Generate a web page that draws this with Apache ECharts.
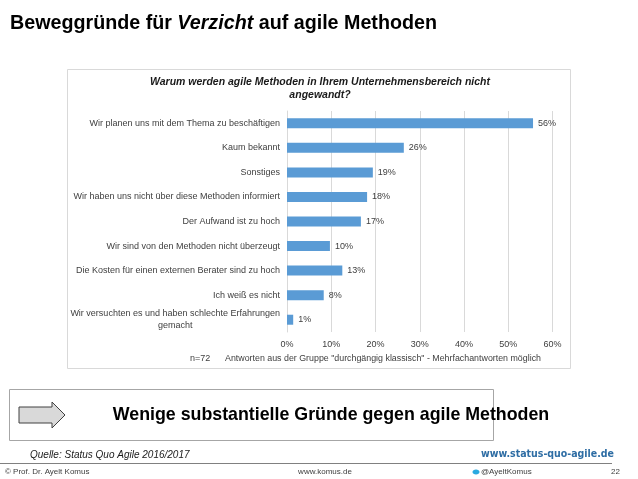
<!DOCTYPE html>
<html>
<head>
<meta charset="utf-8">
<script src="https://cdn.jsdelivr.net/npm/echarts@6/dist/echarts.min.js"></script>
<style>
  html, body { margin: 0; padding: 0; background: #fff; }
  #chart { width: 638px; height: 479px; }
</style>
</head>
<body>
<div id="chart"></div>
<script>
// Kategorien (oben -> unten)
var categories = [
  'Wir planen uns mit dem Thema zu beschäftigen',
  'Kaum bekannt',
  'Sonstiges',
  'Wir haben uns nicht über diese Methoden informiert',
  'Der Aufwand ist zu hoch',
  'Wir sind von den Methoden nicht überzeugt',
  'Die Kosten für einen externen Berater sind zu hoch',
  'Ich weiß es nicht',
  'Wir versuchten es und haben schlechte Erfahrungen\ngemacht'
];
// Anteile in % (n=72)
var values = [55.6, 26.4, 19.4, 18.1, 16.7, 9.7, 12.5, 8.3, 1.4];
var xTicks = [0, 10, 20, 30, 40, 50, 60];

var font = '"Liberation Sans", Arial, sans-serif';
var chart = echarts.init(document.getElementById('chart'));

var option = {
  animation: false,
  backgroundColor: '#fff',
  textStyle: { fontFamily: font },
  grid: {
    left: 287,
    right: 85.5,
    top: 111,
    bottom: 147,
    containLabel: false
  },
  xAxis: {
    type: 'value',
    min: xTicks[0],
    max: xTicks[xTicks.length - 1],
    interval: 10,
    axisLine: { show: false },
    axisTick: { show: false },
    splitLine: { show: true, lineStyle: { color: '#d9d9d9', width: 1 } },
    axisLabel: {
      color: '#404040',
      fontSize: 9,
      margin: 8,
      formatter: function (v) { return v + '%'; }
    }
  },
  yAxis: {
    type: 'category',
    inverse: true,
    data: categories,
    axisLine: { show: true, lineStyle: { color: '#d9d9d9' } },
    axisTick: { show: false },
    axisLabel: {
      color: '#404040',
      fontSize: 9,
      margin: 7,
      lineHeight: 12,
      formatter: function (v) {
        if (v.indexOf('\n') >= 0) {
          var parts = v.split('\n');
          return parts[0] + '\n{c|' + parts[1] + '}';
        }
        return v;
      },
      rich: {
        c: { align: 'center', fontSize: 9, color: '#404040', lineHeight: 12 }
      }
    }
  },
  series: [{
    type: 'bar',
    data: values,
    barWidth: 10,
    itemStyle: { color: '#5a9bd5' },
    label: {
      show: true,
      position: 'right',
      distance: 5,
      color: '#404040',
      fontSize: 9,
      formatter: function (p) { return Math.round(p.value) + '%'; }
    }
  }],
  graphic: [
    // Folientitel
    {
      type: 'text', left: 10, top: 14,
      style: {
        text: '{b|Beweggründe für }{i|Verzicht}{b| auf agile Methoden}',
        rich: {
          b: { fontFamily: font, fontSize: 19.7, fontWeight: 'bold', fill: '#000' },
          i: { fontFamily: font, fontSize: 19.7, fontWeight: 'bold', fontStyle: 'italic', fill: '#000' }
        }
      }
    },
    // Diagrammrahmen
    {
      type: 'rect', shape: { x: 67.5, y: 69.5, width: 503, height: 299 },
      style: { fill: 'none', stroke: '#d9d9d9', lineWidth: 1 }, z: -1
    },
    // Diagrammtitel
    {
      type: 'text', x: 320, y: 76,
      style: {
        text: 'Warum werden agile Methoden in Ihrem Unternehmensbereich nicht\nangewandt?',
        align: 'center', verticalAlign: 'top',
        fontFamily: font, fontSize: 10.5, fontWeight: 'bold', fontStyle: 'italic',
        lineHeight: 13, fill: '#1a1a1a'
      }
    },
    // Fußnote im Diagramm
    {
      type: 'text', x: 190, y: 354,
      style: { text: 'n=72', fontFamily: font, fontSize: 9, fill: '#404040' }
    },
    {
      type: 'text', x: 225, y: 354,
      style: {
        text: 'Antworten aus der Gruppe "durchgängig klassisch" - Mehrfachantworten möglich',
        fontFamily: font, fontSize: 8.85, fill: '#404040'
      }
    },
    // Fazit-Box
    {
      type: 'rect', shape: { x: 9.5, y: 389.5, width: 484, height: 51 },
      style: { fill: 'none', stroke: '#a6a6a6', lineWidth: 1 }
    },
    {
      type: 'polygon',
      shape: { points: [[19, 407], [52, 407], [52, 402], [65, 415], [52, 428], [52, 423], [19, 423]] },
      style: { fill: '#d9d9d9', stroke: '#404040', lineWidth: 1 }
    },
    {
      type: 'text', x: 331, y: 415,
      style: {
        text: 'Wenige substantielle Gründe gegen agile Methoden',
        align: 'center', verticalAlign: 'middle',
        fontFamily: font, fontSize: 17.8, fontWeight: 'bold', fill: '#000'
      }
    },
    // Quelle
    {
      type: 'text', x: 30, y: 450,
      style: { text: 'Quelle: Status Quo Agile 2016/2017', fontFamily: font, fontSize: 10, fontStyle: 'italic', fill: '#1a1a1a' }
    },
    {
      type: 'text', x: 614, y: 449,
      style: {
        text: 'www.status-quo-agile.de', align: 'right',
        fontFamily: '"DejaVu Sans Condensed", "DejaVu Sans", sans-serif', fontSize: 10.5, fontWeight: 'bold', fill: '#2e6da4'
      }
    },
    // Fußzeile
    {
      type: 'line', shape: { x1: 0, y1: 463.5, x2: 612, y2: 463.5 },
      style: { stroke: '#808080', lineWidth: 1 }
    },
    {
      type: 'text', x: 5, y: 468,
      style: { text: '© Prof. Dr. Ayelt Komus', fontFamily: font, fontSize: 8, fill: '#404040' }
    },
    {
      type: 'text', x: 325, y: 468,
      style: { text: 'www.komus.de', align: 'center', fontFamily: font, fontSize: 8, fill: '#404040' }
    },
    {
      type: 'ellipse', shape: { cx: 476, cy: 472, rx: 3.5, ry: 2.5 },
      style: { fill: '#2aa9e0' }
    },
    {
      type: 'text', x: 481, y: 468,
      style: { text: '@AyeltKomus', fontFamily: font, fontSize: 8, fill: '#404040' }
    },
    {
      type: 'text', x: 620, y: 468,
      style: { text: '22', align: 'right', fontFamily: font, fontSize: 8, fill: '#404040' }
    }
  ]
};

chart.setOption(option);
</script>
</body>
</html>
